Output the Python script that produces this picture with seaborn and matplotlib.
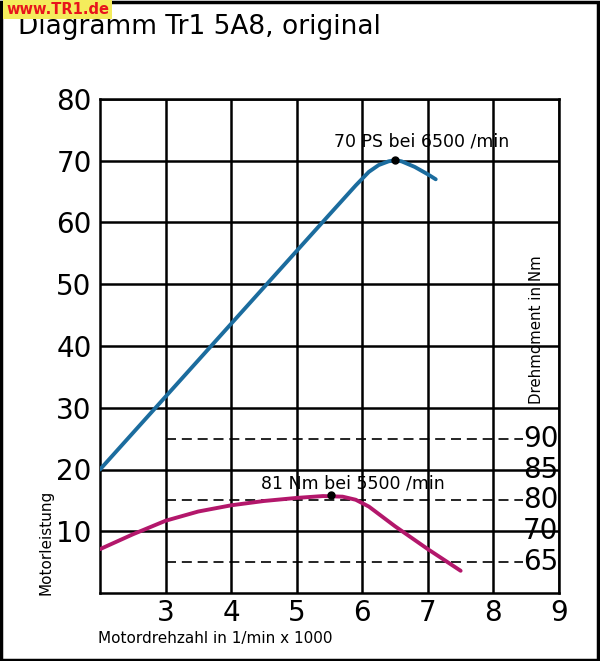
import numpy as np
import pandas as pd
import matplotlib
matplotlib.use("Agg")
import matplotlib.pyplot as plt
import seaborn as sns
from matplotlib.patches import Rectangle

# Werte
drehzahl_ps = [2.0, 3.0, 4.0, 5.0, 5.5, 5.9, 6.1, 6.25, 6.4, 6.5, 6.6, 6.8, 7.0, 7.12]
leistung_ps = [20.0, 31.8, 43.6, 55.4, 61.3, 66.0, 68.2, 69.3, 69.9, 70.1, 69.9, 69.0, 67.8, 67.0]

drehzahl_nm = [2.0, 2.5, 3.0, 3.5, 4.0, 4.5, 5.0, 5.4, 5.7, 5.9, 6.1, 6.5, 7.0, 7.5]
drehmoment_plot = [7.1, 9.5, 11.7, 13.2, 14.2, 14.9, 15.4, 15.7, 15.6, 15.1, 14.0, 10.8, 7.1, 3.6]

x_ticks = [3, 4, 5, 6, 7, 8, 9]
y_ticks = [10, 20, 30, 40, 50, 60, 70, 80]
nm_labels = ["90", "85", "80", "70", "65"]
nm_positions = [25, 20, 15, 10, 5]
dashed_levels = [25, 15, 5]

peak_ps = (6.5, 70.1)
peak_nm = (5.52, 15.9)

df_ps = pd.DataFrame({"rpm": drehzahl_ps, "val": leistung_ps})
df_nm = pd.DataFrame({"rpm": drehzahl_nm, "val": drehmoment_plot})

sns.set_style("white")
plt.rcParams['font.family'] = ['DejaVu Sans']
plt.rcParams['text.color'] = 'black'
plt.rcParams['xtick.color'] = 'black'
plt.rcParams['ytick.color'] = 'black'

fig = plt.figure(figsize=(6, 6.61), dpi=100)
ax = fig.add_axes([100 / 600, 1 - 593 / 661, 459 / 600, 494 / 661])

ax.set_xlim(2, 9)
ax.set_ylim(0, 80)
ax.set_xticks(x_ticks)
ax.set_yticks(y_ticks)
ax.grid(True, color="black", linewidth=1.8)
ax.set_axisbelow(True)
for s in ax.spines.values():
    s.set_color("black")
    s.set_linewidth(1.8)
ax.tick_params(axis="y", length=0, labelsize=20, pad=6)
ax.tick_params(axis="x", length=0, labelsize=20, pad=4)

# gestrichelte Linien Drehmoment
for lvl in dashed_levels:
    ax.plot([3, 8.45], [lvl, lvl], color="black", lw=1.2, ls=(0, (6, 3.5)), zorder=2)

sns.lineplot(data=df_ps, x="rpm", y="val", ax=ax, color="#1b6c9e", lw=2.8, zorder=3)
sns.lineplot(data=df_nm, x="rpm", y="val", ax=ax, color="#b3176b", lw=2.8, zorder=3)
ax.plot(*peak_ps, "o", color="black", ms=5, zorder=4)
ax.plot(*peak_nm, "o", color="black", ms=5, zorder=4)

ax.text(6.91, 73.1, "70 PS bei 6500 /min", fontsize=12.5, ha="center", va="center", zorder=5)
ax.text(5.85, 17.8, "81 Nm bei 5500 /min", fontsize=12.5, ha="center", va="center", zorder=5)

for lab, pos in zip(nm_labels, nm_positions):
    ax.text(8.45, pos, lab, fontsize=20, ha="left", va="center", zorder=5)

ax.text(8.66, 42.6, "Drehmoment in Nm", rotation=90, fontsize=10.8, ha="center", va="center")

ax.set_xlabel("")
ax.set_ylabel("")
fig.text(98 / 600, 1 - 639 / 661, "Motordrehzahl in 1/min x 1000", fontsize=11, ha="left", va="center")
fig.text(46 / 600, 1 - 542 / 661, "Motorleistung", rotation=90, fontsize=11, ha="center", va="center")

fig.text(18 / 600, 1 - 27 / 661, "Diagramm Tr1 5A8, original", fontsize=19, ha="left", va="center")
fig.text(6 / 600, 1 - 9 / 661, "www.TR1.de", fontsize=10.5, color="#e8141c", fontweight="bold",
         ha="left", va="center",
         bbox=dict(boxstyle="square,pad=0.2", facecolor="#f4ec5c", edgecolor="none"))

fig.patches.append(Rectangle((0.002, 0.002), 0.994, 0.995, transform=fig.transFigure,
                             fill=False, edgecolor="black", lw=2.5))

fig.savefig("out.png", dpi=100)
